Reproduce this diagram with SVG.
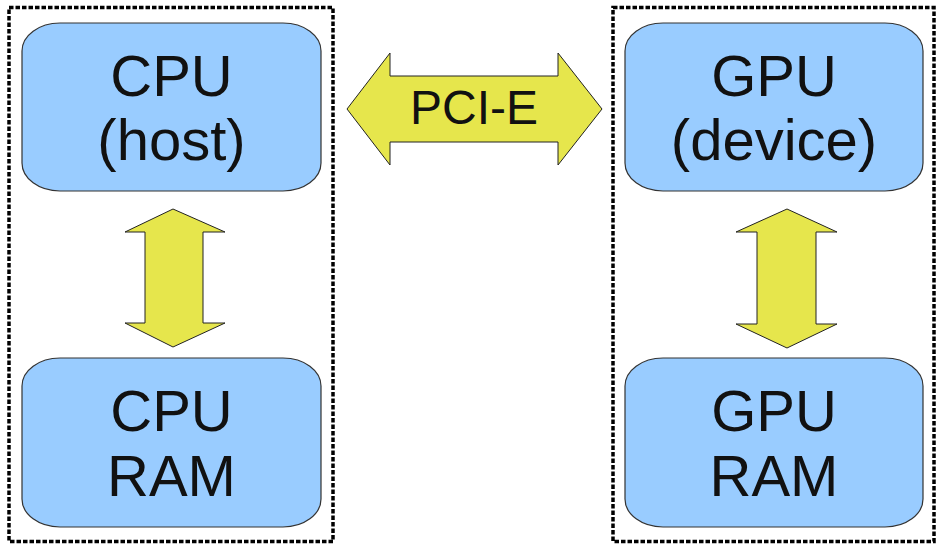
<svg xmlns="http://www.w3.org/2000/svg" width="937" height="544" viewBox="0 0 937 544">
<style>
.frame{fill:none;stroke:#000;stroke-width:3.5;stroke-dasharray:4.5 2}
.node rect{fill:#99ccff;stroke:#333;stroke-width:1.2}
.node text,.lbl{font-family:"Liberation Sans",Arial,sans-serif;fill:#111;text-anchor:middle}
.node text{font-size:58px}
.arrow{fill:#e6e64c;stroke:#222;stroke-width:1}
</style>
<rect width="937" height="544" fill="#fff"/>
<rect class="frame" x="9" y="7.5" width="324" height="534"/>
<rect class="frame" x="613" y="7.5" width="321" height="534"/>
<g id="cpu-host" class="node">
<rect x="22" y="23" width="299" height="168" rx="38" ry="28"/>
<text x="171.5" y="96">CPU</text>
<text x="171.5" y="160">(host)</text>
</g>
<g id="cpu-ram" class="node">
<rect x="22" y="358" width="299" height="169" rx="38" ry="28"/>
<text x="171.5" y="431">CPU</text>
<text x="171.5" y="496">RAM</text>
</g>
<g id="gpu-device" class="node">
<rect x="625" y="23" width="298" height="168" rx="38" ry="28"/>
<text x="774" y="96">GPU</text>
<text x="774" y="160">(device)</text>
</g>
<g id="gpu-ram" class="node">
<rect x="625" y="358" width="298" height="169" rx="38" ry="28"/>
<text x="774" y="431">GPU</text>
<text x="774" y="496">RAM</text>
</g>
<g id="connectors">
<path class="arrow" d="M347,109 L390,53 L390,76 L558,76 L558,53 L602,109 L558,165 L558,142 L390,142 L390,165 Z"/>
<text class="lbl" x="474" y="124" font-size="48">PCI-E</text>
<path class="arrow" d="M173,209 L225,232 L203,232 L203,323 L225,323 L173,347 L125,323 L145,323 L145,232 L125,232 Z"/>
<path class="arrow" d="M787,209 L837,232 L816,232 L816,324 L837,324 L787,348 L736,324 L757,324 L757,232 L736,232 Z"/>
</g>
</svg>
